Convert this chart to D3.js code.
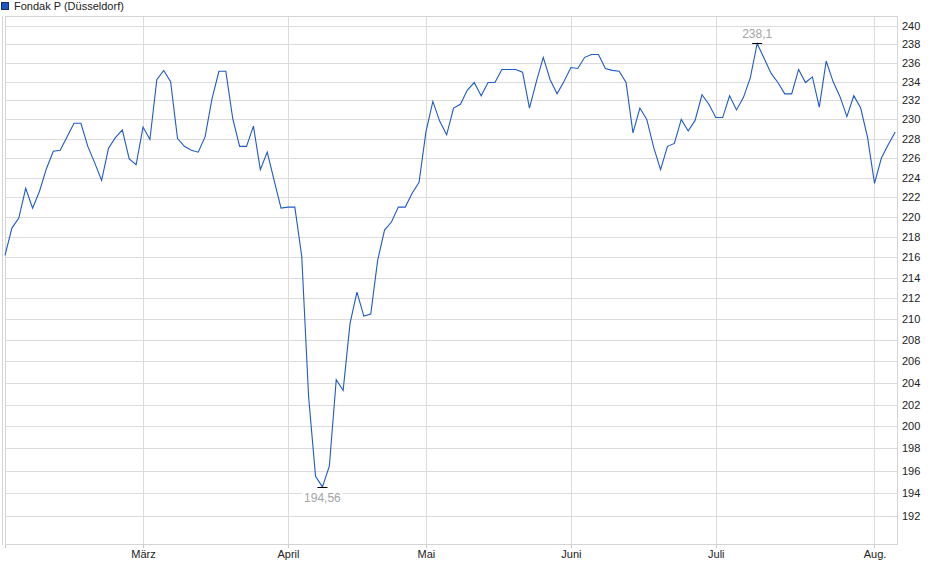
<!DOCTYPE html>
<html>
<head>
<meta charset="utf-8">
<script src="https://cdn.jsdelivr.net/npm/d3@7"></script>
<style>
  body { margin: 0; background: #fff; }
  text { font-family: "Liberation Sans", Arial, sans-serif; }
</style>
</head>
<body>
<svg id="root"></svg>
<script>
// daily closing prices, trading days from early Feb to early Aug
const prices = [
  216.2, 218.9, 219.9, 222.9, 220.9, 222.6, 224.9, 226.7, 226.8, 228.2,
  229.6, 229.6, 227.2, 225.5, 223.7, 227.0, 228.1, 228.9, 225.9, 225.3,
  229.2, 227.9, 234.2, 235.2, 234.0, 228.0, 227.2, 226.8, 226.6, 228.2,
  232.2, 235.1, 235.1, 230.1, 227.2, 227.2, 229.3, 224.8, 226.6, 223.7,
  220.9, 221.0, 221.0, 216.1, 202.7, 195.5, 194.56, 196.4, 204.3, 203.3,
  209.6, 212.6, 210.3, 210.5, 215.7, 218.7, 219.5, 221.0, 221.0, 222.4,
  223.5, 228.7, 231.9, 229.8, 228.4, 231.2, 231.6, 233.1, 233.9, 232.5,
  233.9, 233.9, 235.3, 235.3, 235.3, 235.0, 231.2, 234.0, 236.6, 234.2,
  232.7, 234.0, 235.5, 235.4, 236.6, 236.9, 236.9, 235.4, 235.2, 235.1,
  233.9, 228.6, 231.2, 230.0, 227.1, 224.8, 227.2, 227.5, 230.0, 228.8,
  229.9, 232.6, 231.6, 230.2, 230.2, 232.5, 231.0, 232.3, 234.4, 238.1,
  236.5, 234.9, 233.9, 232.7, 232.7, 235.3, 233.9, 234.5, 231.3, 236.2,
  234.0, 232.4, 230.3, 232.5, 231.2, 228.1, 223.4, 226.0, 227.4, 228.7
];

// first trading day of each month (index into prices)
const monthIndex = [20, 41, 61, 82, 103, 126];
const monthLabels = ["März", "April", "Mai", "Juni", "Juli", "Aug."];

const yTicks = d3.range(192, 241, 2);
const seriesName = "Fondak P (Düsseldorf)";

const width = 940, height = 579;
const plot = { left: 5, right: 898, top: 16, bottom: 545 };

const svg = d3.select("#root").attr("width", width).attr("height", height);

var xScale = d3.scaleLinear([0, prices.length - 1], [5, 895.2]);
var yScale = d3.scaleLog([192, 240], [516, 26]);

// grid
svg.append("g")
  .attr("transform", `translate(${plot.right},0)`)
  .call(d3.axisRight(yScale).tickValues(yTicks).tickSize(-(plot.right - plot.left)).tickPadding(4).tickFormat(d => d))
  .call(g => g.select(".domain").remove())
  .call(g => g.selectAll("line").attr("stroke", "#dcdcdc").attr("shape-rendering", "crispEdges"))
  .call(g => g.selectAll("text").attr("fill", "#222").attr("font-size", 11)
    .attr("font-family", "'Liberation Sans', Arial, sans-serif"));

svg.append("g")
  .attr("transform", `translate(0,${plot.bottom})`)
  .call(d3.axisBottom(xScale).tickValues(monthIndex).tickSize(-(plot.bottom - plot.top)).tickFormat(""))
  .call(g => g.select(".domain").remove())
  .call(g => g.selectAll("line").attr("stroke", "#dcdcdc").attr("shape-rendering", "crispEdges"));

// frame
svg.append("rect")
  .attr("x", plot.left + 0.5)
  .attr("y", plot.top + 0.5)
  .attr("width", plot.right - plot.left - 1)
  .attr("height", plot.bottom - plot.top - 1)
  .attr("fill", "none")
  .attr("stroke", "#d4d4d4");
svg.append("line")
  .attr("x1", 2.5).attr("x2", 2.5)
  .attr("y1", plot.top).attr("y2", plot.bottom)
  .attr("stroke", "#d4d4d4");

// x axis labels with small ticks
svg.append("g")
  .attr("transform", `translate(0,${plot.bottom})`)
  .call(d3.axisBottom(xScale).tickValues([0].concat(monthIndex)).tickSize(3).tickPadding(2)
    .tickFormat(d => d === 0 ? "" : monthLabels[monthIndex.indexOf(d)]))
  .call(g => g.select(".domain").remove())
  .call(g => g.selectAll("line").attr("stroke", "#c8c8c8").attr("shape-rendering", "crispEdges"))
  .call(g => g.selectAll("text").attr("fill", "#222").attr("font-size", 11)
    .attr("font-family", "'Liberation Sans', Arial, sans-serif"));

// price line
var line = d3.line()
  .x((d, i) => xScale(i))
  .y(d => yScale(d));
svg.append("path")
  .datum(prices)
  .attr("fill", "none")
  .attr("stroke", "#1f5bc6")
  .attr("stroke-width", 1.1)
  .attr("d", line);

// high / low markers
const fmt = v => String(v).replace(".", ",");
const iMax = d3.maxIndex(prices), iMin = d3.minIndex(prices);

[[iMax, -1], [iMin, 1]].forEach(([i, dir]) => {
  const px = xScale(i), py = yScale(prices[i]);
  svg.append("line")
    .attr("x1", px - 5).attr("x2", px + 5)
    .attr("y1", Math.round(py) + 0.5).attr("y2", Math.round(py) + 0.5)
    .attr("stroke", "#000");
  const ty = dir < 0 ? py - 5 : py + 15;
  const t = svg.append("text")
    .attr("x", px)
    .attr("y", ty)
    .attr("text-anchor", "middle")
    .attr("font-size", 12)
    .attr("fill", "#a4a4a4")
    .text(fmt(prices[i]));
  const bb = t.node().getBBox();
  svg.insert("rect", () => t.node())
    .attr("x", bb.x - 2).attr("y", bb.y)
    .attr("width", bb.width + 4).attr("height", bb.height)
    .attr("fill", "#fff");
});

// legend
svg.append("rect")
  .attr("x", 1.5).attr("y", 2.5)
  .attr("width", 7).attr("height", 7)
  .attr("fill", "#1a56c4")
  .attr("stroke", "#1d2f55");
svg.append("text")
  .attr("x", 14)
  .attr("y", 10)
  .attr("font-size", 11)
  .attr("fill", "#222")
  .text(seriesName);
</script>
</body>
</html>
